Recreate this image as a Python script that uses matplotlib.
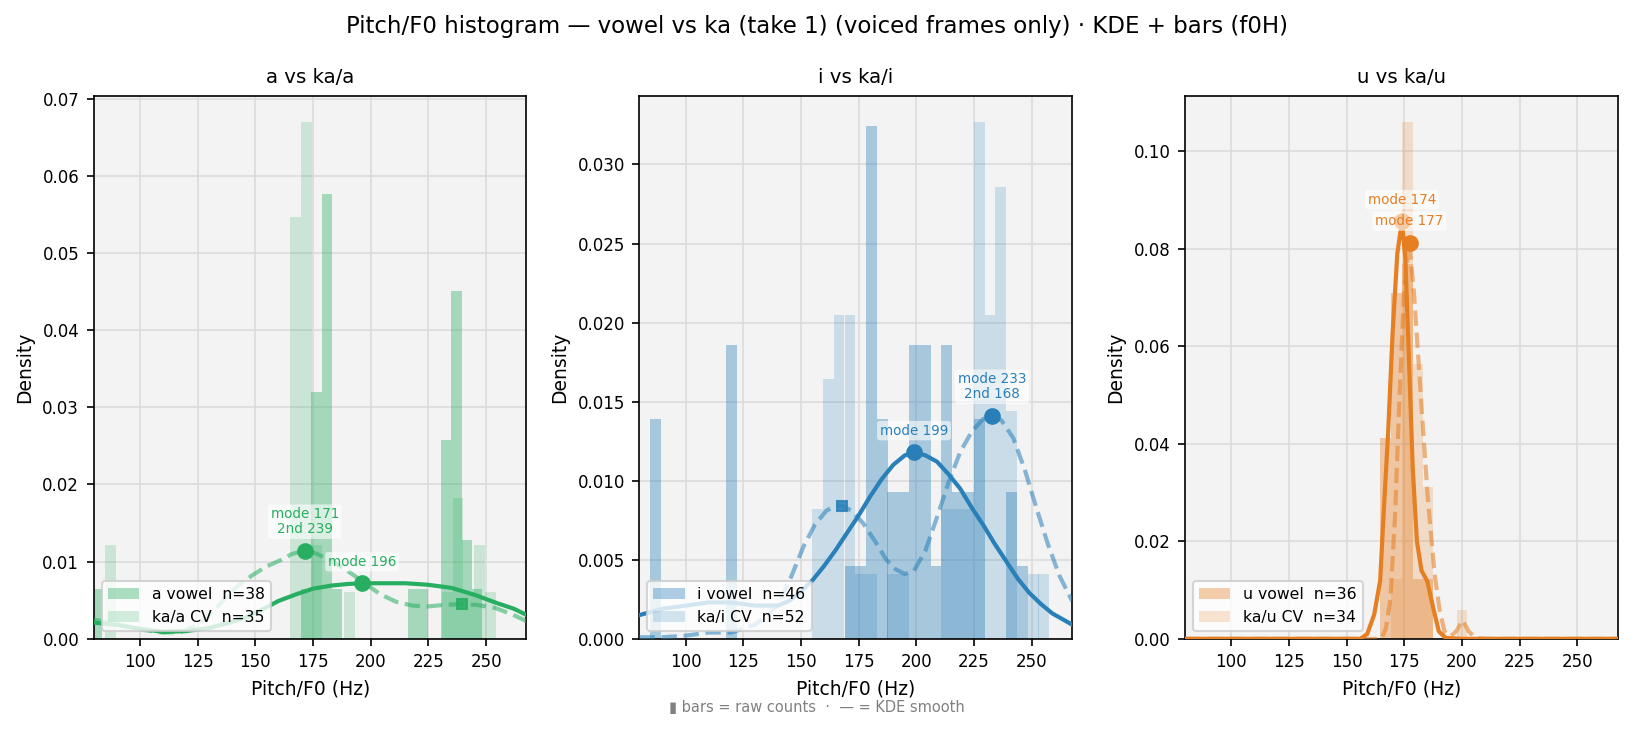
import matplotlib
matplotlib.use('Agg')
import matplotlib.pyplot as plt
import numpy as np

# Данные
vowels = ['a', 'i', 'u']
colors = {'a': '#27ae60', 'i': '#2980b9', 'u': '#e67e22'}
n_vowel = {'a': 38, 'i': 46, 'u': 36}
n_cv = {'a': 35, 'i': 52, 'u': 34}

# гистограммы: левые края бинов (Гц), ширина бина, плотность
a_vowel_left = [79.0, 169.6, 174.2, 178.7, 183.2, 216.0, 220.5, 230.4, 234.9, 239.4, 243.9]
a_vowel_dens = [0.0064, 0.0064, 0.0320, 0.0577, 0.0064, 0.0064, 0.0064, 0.0257, 0.0451, 0.0128, 0.0064]
a_vowel_w = 4.5
a_cv_left = [84.8, 165.0, 169.7, 174.4, 188.5, 230.8, 235.5, 240.2, 244.9, 249.6]
a_cv_dens = [0.0121, 0.0547, 0.0670, 0.0121, 0.0061, 0.0061, 0.0182, 0.0061, 0.0121, 0.0061]
a_cv_w = 4.7

i_vowel_left = [84.8, 117.5, 168.9, 173.5, 178.2, 182.9, 187.5, 192.2, 196.9, 201.5, 206.2,
                210.9, 215.5, 220.2, 224.9, 239.0, 243.6]
i_vowel_dens = [0.0139, 0.0186, 0.0046, 0.0046, 0.0324, 0.0139, 0.0093, 0.0093, 0.0186, 0.0186,
                0.0046, 0.0186, 0.0093, 0.0093, 0.0139, 0.0093, 0.0046]
i_vowel_w = 4.67
i_cv_left = [154.9, 159.6, 164.2, 168.9, 173.5, 178.2, 187.5, 192.2, 210.9, 215.5, 220.2,
             224.9, 229.6, 234.3, 239.0, 248.3, 252.9]
i_cv_dens = [0.0082, 0.0164, 0.0205, 0.0205, 0.0041, 0.0041, 0.0041, 0.0041, 0.0082, 0.0082,
             0.0082, 0.0327, 0.0205, 0.0286, 0.0144, 0.0041, 0.0041]
i_cv_w = 4.67

u_vowel_left = [164.7, 169.4, 174.1, 178.6, 183.1]
u_vowel_dens = [0.0412, 0.0710, 0.0770, 0.0122, 0.0122]
u_vowel_w = 4.5
u_cv_left = [169.4, 174.1, 178.6, 183.1, 197.8]
u_cv_dens = [0.0122, 0.1061, 0.0563, 0.0312, 0.0060]
u_cv_w = 4.5

# KDE-кривые (считаны по точкам)
a_kde_x = [80, 90, 100, 110, 120, 130, 140, 146, 153, 160, 168, 175, 183, 190, 196, 205, 215,
           225, 235, 245, 255, 262, 267.5]
a_kde_y = [0.0021, 0.0018, 0.0013, 0.0009, 0.0010, 0.0014, 0.0022, 0.0028, 0.0038, 0.0049,
           0.0058, 0.0065, 0.0069, 0.0071, 0.0072, 0.0072, 0.0072, 0.0070, 0.0066, 0.0057,
           0.0046, 0.0039, 0.0031]
ka_a_kde_x = [80, 90, 100, 110, 118, 125, 130, 135, 138, 143, 149, 155, 161, 166, 171, 176,
              183, 190, 197, 204, 211, 218, 225, 232, 239, 246, 254, 261, 267.5]
ka_a_kde_y = [0.0025, 0.0019, 0.0012, 0.0008, 0.0009, 0.0018, 0.0030, 0.0046, 0.0057, 0.0070,
              0.0083, 0.0094, 0.0102, 0.0110, 0.0114, 0.0111, 0.0101, 0.0088, 0.0073, 0.0058,
              0.0048, 0.0043, 0.0042, 0.0044, 0.0045, 0.0044, 0.0040, 0.0032, 0.0023]

i_kde_x = [80, 90, 100, 110, 120, 130, 140, 145, 150, 155, 160, 165, 170, 175, 180, 185, 190,
           195, 199, 204, 209, 214, 219, 224, 229, 234, 239, 244, 249, 254, 259, 267.5]
i_kde_y = [0.0015, 0.0019, 0.0021, 0.0023, 0.0023, 0.0021, 0.0021, 0.0024, 0.0030, 0.0037,
           0.0046, 0.0056, 0.0067, 0.0078, 0.0090, 0.0101, 0.0110, 0.0116, 0.0118, 0.0116,
           0.0112, 0.0104, 0.0095, 0.0083, 0.0072, 0.0060, 0.0049, 0.0038, 0.0029, 0.0022,
           0.0016, 0.0009]
ka_i_kde_x = [80, 90, 100, 110, 120, 130, 136, 141, 146, 151, 156, 161, 165, 168, 172, 177,
              182, 187, 191, 195, 199, 204, 209, 214, 219, 224, 229, 233, 237, 242, 247, 252,
              257, 262, 267.5]
ka_i_kde_y = [0.0001, 0.0001, 0.0002, 0.0004, 0.0004, 0.0009, 0.0015, 0.0024, 0.0040, 0.0058,
              0.0072, 0.0081, 0.0084, 0.0084, 0.0081, 0.0073, 0.0062, 0.0050, 0.0044, 0.0041,
              0.0043, 0.0056, 0.0077, 0.0099, 0.0118, 0.0131, 0.0139, 0.0141, 0.0138, 0.0127,
              0.0107, 0.0083, 0.0060, 0.0040, 0.0024]

u_kde_x = [80, 150, 156, 159, 162, 164.6, 166, 168, 170, 172, 174, 175.5, 177, 178.7, 180.5,
           182.5, 185, 187.5, 190, 193, 200, 267.5]
u_kde_y = [0.0, 0.0, 0.0, 0.001, 0.005, 0.012, 0.025, 0.042, 0.063, 0.079, 0.0857, 0.078,
           0.058, 0.035, 0.020, 0.014, 0.0118, 0.0065, 0.0015, 0.0002, 0.0, 0.0]
ka_u_kde_x = [80, 160, 165, 167, 169, 171, 173, 175, 177.2, 179.4, 182.3, 185.2, 188.1, 190.3,
              192.5, 195, 197.5, 200.3, 203, 206, 210, 267.5]
ka_u_kde_y = [0.0, 0.0, 0.0, 0.002, 0.008, 0.025, 0.050, 0.072, 0.0813, 0.070, 0.049, 0.029,
              0.0136, 0.006, 0.0015, 0.0005, 0.0015, 0.0038, 0.0015, 0.0002, 0.0, 0.0]

# моды: (x, y, подпись); вторая мода CV-кривой (квадрат)
a_mode = (196.3, 0.0072, 'mode 196')
ka_a_mode = (171.4, 0.0114, 'mode 171\n2nd 239')
ka_a_2nd = (239.4, 0.0045)
i_mode = (199.0, 0.0118, 'mode 199')
ka_i_mode = (232.8, 0.0141, 'mode 233\n2nd 168')
ka_i_2nd = (167.9, 0.0084)
u_mode = (174.0, 0.0857, 'mode 174')
ka_u_mode = (177.3, 0.0813, 'mode 177')
ka_u_2nd = None

panels = {
    'a': dict(vl=a_vowel_left, vd=a_vowel_dens, vw=a_vowel_w, cl=a_cv_left, cd=a_cv_dens, cw=a_cv_w,
              kx=a_kde_x, ky=a_kde_y, ckx=ka_a_kde_x, cky=ka_a_kde_y,
              m=a_mode, cm=ka_a_mode, c2=ka_a_2nd),
    'i': dict(vl=i_vowel_left, vd=i_vowel_dens, vw=i_vowel_w, cl=i_cv_left, cd=i_cv_dens, cw=i_cv_w,
              kx=i_kde_x, ky=i_kde_y, ckx=ka_i_kde_x, cky=ka_i_kde_y,
              m=i_mode, cm=ka_i_mode, c2=ka_i_2nd),
    'u': dict(vl=u_vowel_left, vd=u_vowel_dens, vw=u_vowel_w, cl=u_cv_left, cd=u_cv_dens, cw=u_cv_w,
              kx=u_kde_x, ky=u_kde_y, ckx=ka_u_kde_x, cky=ka_u_kde_y,
              m=u_mode, cm=ka_u_mode, c2=ka_u_2nd),
}

fig, axes = plt.subplots(1, 3, figsize=(1634 / 150, 732 / 150), dpi=150)
fig.subplots_adjust(left=0.0574, right=0.990, top=0.869, bottom=0.1273, wspace=0.261)
fig.suptitle('Pitch/F0 histogram — vowel vs ka (take 1) (voiced frames only) · KDE + bars (f0H)',
             fontsize=11, y=0.98)


def annotate_mode(ax, mode, col):
    x, y, txt = mode
    ax.plot([x], [y], 'o', color=col, markersize=7, zorder=6)
    ax.annotate(txt, (x, y), xytext=(0, 7), textcoords='offset points',
                ha='center', va='bottom', fontsize=6.5, color=col, linespacing=1.1, zorder=7,
                bbox=dict(boxstyle='round,pad=0.2', facecolor='white', edgecolor='none', alpha=0.6))


for ax, v in zip(axes, vowels):
    p = panels[v]
    col = colors[v]
    ax.set_facecolor('#f3f3f3')
    ax.grid(True, color='#dcdcdc', linewidth=0.8)
    ax.set_axisbelow(True)

    ax.bar(p['vl'], p['vd'], width=p['vw'], align='edge', color=col, alpha=0.38,
           linewidth=0, label=f'{v} vowel  n={n_vowel[v]}', zorder=2)
    ax.bar(p['cl'], p['cd'], width=p['cw'], align='edge', color=col, alpha=0.2,
           linewidth=0, label=f'ka/{v} CV  n={n_cv[v]}', zorder=2)

    ax.plot(p['kx'], p['ky'], color=col, linewidth=2.0, zorder=4)
    ax.plot(p['ckx'], p['cky'], color=col, linewidth=2.0, linestyle='--', alpha=0.55, zorder=4)

    annotate_mode(ax, p['m'], col)
    annotate_mode(ax, p['cm'], col)
    if p['c2'] is not None:
        ax.plot([p['c2'][0]], [p['c2'][1]], 's', color=col, markersize=5, alpha=0.85, zorder=6)

    ax.set_xlim(80, 267.5)
    ax.set_xticks([100, 125, 150, 175, 200, 225, 250])
    ax.tick_params(labelsize=8)
    ax.set_title(f'{v} vs ka/{v}', fontsize=9.5)
    ax.set_xlabel('Pitch/F0 (Hz)', fontsize=9)
    ax.set_ylabel('Density', fontsize=9)
    ax.legend(loc='lower left', fontsize=7.5, framealpha=0.8)

fig.text(0.5, 0.033, '▮ bars = raw counts  ·  — = KDE smooth', ha='center', va='center',
         fontsize=7, color='gray')

fig.savefig('out.png', dpi=150)
